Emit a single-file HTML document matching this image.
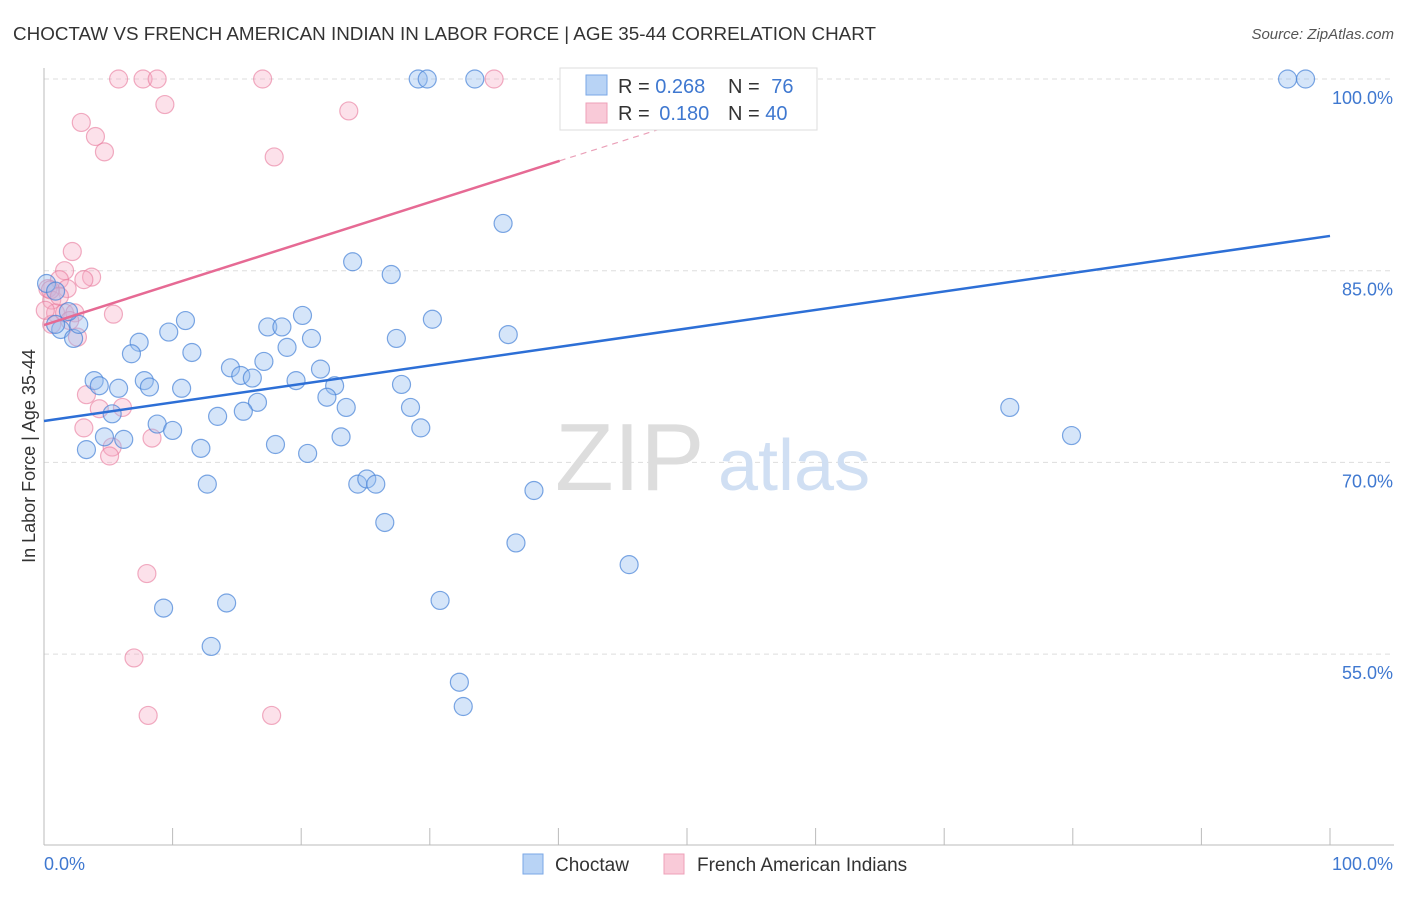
<!DOCTYPE html>
<html><head><meta charset="utf-8"><style>
body{margin:0;background:#fff;font-family:"Liberation Sans",sans-serif}
svg text{font-family:"Liberation Sans",sans-serif}
</style></head><body>
<svg width="1406" height="892" xmlns="http://www.w3.org/2000/svg">
<text x="13" y="40" font-size="18" fill="#333" textLength="863" lengthAdjust="spacingAndGlyphs">CHOCTAW VS FRENCH AMERICAN INDIAN IN LABOR FORCE | AGE 35-44 CORRELATION CHART</text>
<text x="1394" y="39" font-size="15" fill="#555" font-style="italic" text-anchor="end">Source: ZipAtlas.com</text>
<g id="grid"></g>
<g id="axes"></g>
<text x="555" y="490" font-size="96" fill="#ddd" font-family="Liberation Serif">ZIP</text>
<text x="718" y="490" font-size="72" fill="#d0dff3">atlas</text>
<g id="pts"></g>
<g id="lines"></g>
<g>
<rect x="560" y="68" width="257" height="62" fill="#fff" stroke="#ddd"/>
<rect x="586" y="75" width="21" height="20" fill="#b8d3f5" stroke="#7aa7e6"/>
<rect x="586" y="103" width="21" height="20" fill="#f9cad8" stroke="#eea0b8"/>
<text x="618" y="93" font-size="20" fill="#333">R = <tspan fill="#3f78d0">0.268</tspan></text>
<text x="728" y="93" font-size="20" fill="#333">N = <tspan fill="#3f78d0" dx="6">76</tspan></text>
<text x="618" y="120" font-size="20" fill="#333">R = <tspan fill="#3f78d0" dx="4">0.180</tspan></text>
<text x="728" y="120" font-size="20" fill="#333">N = <tspan fill="#3f78d0">40</tspan></text>
</g>
<g>
<rect x="523" y="854" width="20" height="20" fill="#b8d3f5" stroke="#7aa7e6"/>
<text x="555" y="871" font-size="19" fill="#333">Choctaw</text>
<rect x="664" y="854" width="20" height="20" fill="#f9cad8" stroke="#eea0b8"/>
<text x="697" y="871" font-size="19" fill="#333">French American Indians</text>
</g>
<text x="35" y="456" font-size="18" fill="#333" text-anchor="middle" transform="rotate(-90 35 456)">In Labor Force | Age 35-44</text>
</svg>
<script>
const yTicks=[100,85,70,55];
const yTickLabels=["100.0%","85.0%","70.0%","55.0%"];
const blueX=[43.1,46.7,29.1,29.8,33.5,96.7,98.1,35.7,24.0,27.0,0.2,0.9,11.0,9.7,20.1,17.4,18.5,20.8,18.9,30.2,27.4,36.1,7.4,6.8,11.5,1.3,2.3,2.7,1.9,0.9,17.1,14.5,15.3,16.2,21.5,19.6,22.6,27.8,3.9,4.3,5.8,7.8,8.2,10.7,16.6,22.0,15.5,23.5,13.5,28.5,5.3,8.8,10.0,29.3,75.1,79.9,4.7,6.2,3.3,12.2,18.0,20.5,23.1,12.7,24.4,25.1,25.8,38.1,26.5,36.7,45.5,9.3,14.2,30.8,13.0,32.3,32.6];
const blueY=[99.7,100,100,100,100,100,100,88.7,85.7,84.7,84.0,83.4,81.1,80.2,81.5,80.6,80.6,79.7,79.0,81.2,79.7,80.0,79.4,78.5,78.6,80.4,79.7,80.8,81.8,80.8,77.9,77.4,76.8,76.6,77.3,76.4,76.0,76.1,76.4,76.0,75.8,76.4,75.9,75.8,74.7,75.1,74.0,74.3,73.6,74.3,73.8,73.0,72.5,72.7,74.3,72.1,72.0,71.8,71.0,71.1,71.4,70.7,72.0,68.3,68.3,68.7,68.3,67.8,65.3,63.7,62.0,58.6,59.0,59.2,55.6,52.8,50.9];
const pinkX=[5.8,7.7,8.8,17.0,35.0,9.4,23.7,2.9,4.0,4.7,17.9,2.2,1.6,3.7,3.1,1.2,1.8,0.3,0.6,0.9,1.6,2.4,5.4,0.6,2.6,3.3,4.3,6.1,3.1,8.4,5.3,5.1,8.0,7.0,8.1,17.7,0.5,1.2,0.1,2.0];
const pinkY=[100,100,100,100,100,98.0,97.5,96.6,95.5,94.3,93.9,86.5,85.0,84.5,84.3,84.3,83.6,83.6,82.7,81.7,81.7,81.7,81.6,80.8,79.8,75.3,74.2,74.3,72.7,71.9,71.2,70.5,61.3,54.7,50.2,50.2,83.5,83.0,81.9,81.1];
const blueTrend=[[0,73.24],[100,87.72]];
const pinkTrend=[[0,80.75],[40.1,93.6]];
const pinkDash=[[40.1,93.6],[59.6,99.8]];
const NS="http://www.w3.org/2000/svg";
const sx=v=>44+v*12.86, sy=v=>79+(100-v)*12.78;
function mk(tag,attrs,parent){const e=document.createElementNS(NS,tag);for(const k in attrs)e.setAttribute(k,attrs[k]);document.getElementById(parent).appendChild(e);return e;}
yTicks.forEach((t,i)=>{
 const g=mk('line',{x1:44,x2:1394,y1:sy(t),y2:sy(t),stroke:'#ddd','stroke-dasharray':'5,4'},'grid');
 
 
 const tx=mk('text',{x:1393,y:sy(t)+25,'font-size':18,fill:'#3f78d0','text-anchor':'end'},'axes');
 tx.textContent=yTickLabels[i];
 
 
});
mk('line',{x1:44,x2:44,y1:68,y2:845,stroke:'#bbb'},'axes');
mk('line',{x1:44,x2:1394,y1:845,y2:845,stroke:'#bbb'},'axes');
for(let i=0;i<=10;i++){const l=mk('line',{x1:sx(i*10),x2:sx(i*10),y1:828,y2:845,stroke:'#bbb'},'axes');}
const x0=mk('text',{x:44,y:870,'font-size':18,fill:'#3f78d0'},'axes');x0.textContent='0.0%';


const x1=mk('text',{x:1393,y:870,'font-size':18,fill:'#3f78d0','text-anchor':'end'},'axes');x1.textContent='100.0%';


pinkX.forEach((x,i)=>{const c=mk('circle',{cx:sx(x),cy:sy(pinkY[i]),r:9,fill:'rgba(245,170,195,0.35)',stroke:'rgba(232,120,155,0.6)','stroke-width':1.2},'pts');
 
 });
blueX.forEach((x,i)=>{const c=mk('circle',{cx:sx(x),cy:sy(blueY[i]),r:9,fill:'rgba(150,190,240,0.4)',stroke:'rgba(70,130,215,0.7)','stroke-width':1.2},'pts');
 
 });
function ln(p,col,w,dash,name){const l=mk('line',{x1:sx(p[0][0]),y1:sy(p[0][1]),x2:sx(p[1][0]),y2:sy(p[1][1]),stroke:col,'stroke-width':w},'lines');if(dash)l.setAttribute('stroke-dasharray',dash);
 
 }
ln(blueTrend,'#2d6fd6',2.5,null,'choctaw-trend-line');
ln(pinkTrend,'#e66a94',2.5,null,'french-trend-line');
ln(pinkDash,'#eaa0b8',1.2,'6,5','french-trend-extension');
</script>
</body></html>
